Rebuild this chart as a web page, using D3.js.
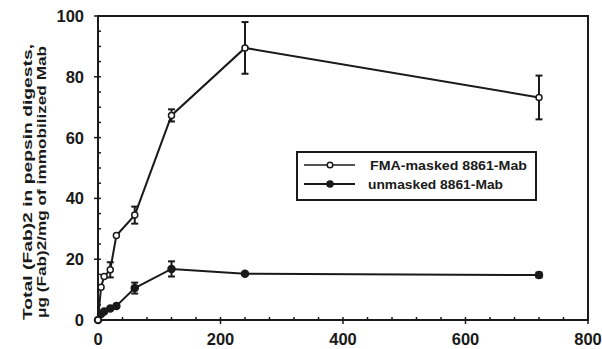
<!DOCTYPE html>
<html>
<head>
<meta charset="utf-8">
<script src="https://cdn.jsdelivr.net/npm/d3@7"></script>
<style>
  body { margin: 0; background: #fff; }
  svg { display: block; font-family: "Liberation Sans", Arial, sans-serif; font-weight: bold; }
</style>
</head>
<body>
<script>
const w = 602;
const h = 349;

// time points (x) and the two series
const times = [0, 5, 10, 20, 30, 60, 120, 240, 720];
const masked = [0, 10.8, 14.3, 16.5, 27.8, 34.5, 67.3, 89.5, 73.2];
const maskedErr = [0, 0, 0, 2.5, 0, 2.8, 2, 8.5, 7.2];
const unmasked = [0, 2, 2.8, 3.8, 4.6, 10.5, 16.8, 15.2, 14.8];
const unmaskedErr = [0, 0, 0, 0, 0, 1.8, 2.5, 0, 0.8];

const xTicks = [0, 200, 400, 600, 800];
const yTicks = [0, 20, 40, 60, 80, 100];
const legendLabels = ['FMA-masked 8861-Mab', 'unmasked 8861-Mab'];

const x = d3.scaleLinear().domain([0, 800]).range([98, 588]);
const y = d3.scaleLinear().domain([0, 100]).range([320, 16]);

const svg = d3.select('body').append('svg')
	.attr('width', w)
	.attr('height', h);

const ink = '#1a1a1a';

// frame
svg.append('rect')
	.attr('x', x(0)).attr('y', y(100))
	.attr('width', x(800) - x(0)).attr('height', y(0) - y(100))
	.attr('fill', 'none').attr('stroke', ink).attr('stroke-width', 2);

// y axis ticks
svg.append('g')
	.selectAll('line')
	.data(d3.range(0, 101, 5))
	.join('line')
	.attr('x1', d => d % 20 === 0 ? x(0) - 4 : x(0))
	.attr('x2', x(0) + 3)
	.attr('y1', d => y(d)).attr('y2', d => y(d))
	.attr('stroke', ink).attr('stroke-width', 1.5);

svg.append('g')
	.selectAll('text')
	.data(yTicks)
	.join('text')
	.attr('x', x(0) - 14)
	.attr('y', d => y(d) + 6)
	.attr('text-anchor', 'end')
	.attr('font-size', 16.5)
	.attr('fill', ink)
	.text(d => d);

// x axis ticks
svg.append('g')
	.selectAll('line')
	.data(d3.range(0, 801, 40))
	.join('line')
	.attr('x1', d => x(d)).attr('x2', d => x(d))
	.attr('y1', d => d % 200 === 0 ? y(0) + 4 : y(0))
	.attr('y2', y(0) - 3)
	.attr('stroke', ink).attr('stroke-width', 1.5);

svg.append('g')
	.selectAll('text')
	.data(xTicks)
	.join('text')
	.attr('x', d => x(d))
	.attr('y', 345)
	.attr('text-anchor', 'middle')
	.attr('font-size', 16.5)
	.attr('fill', ink)
	.text(d => d);

// y axis title
const title = svg.append('text')
	.attr('transform', 'translate(32,182) rotate(-90)')
	.attr('text-anchor', 'middle')
	.attr('font-size', 13.5)
	.attr('fill', ink);
title.append('tspan').attr('x', 0).attr('y', 0)
	.attr('textLength', 276).attr('lengthAdjust', 'spacingAndGlyphs')
	.text('Total (Fab)2 in pepsin digests,');
title.append('tspan').attr('x', 0).attr('y', 13.5)
	.attr('textLength', 272).attr('lengthAdjust', 'spacingAndGlyphs')
	.text('\u03bcg (Fab)2/mg of immobilized Mab');

const line = d3.line().x(d => x(d[0])).y(d => y(d[1]));

function drawSeries(vals, errs, filled) {
	const pts = times.map((t, i) => [t, vals[i], errs[i]]);
	const g = svg.append('g');
	g.append('path')
		.datum(pts)
		.attr('d', line)
		.attr('fill', 'none')
		.attr('stroke', ink)
		.attr('stroke-width', 2);
	const eb = g.selectAll('g.err')
		.data(pts.filter(d => d[2] > 0))
		.join('g');
	eb.append('line')
		.attr('x1', d => x(d[0])).attr('x2', d => x(d[0]))
		.attr('y1', d => y(d[1] - d[2])).attr('y2', d => y(d[1] + d[2]))
		.attr('stroke', ink).attr('stroke-width', 2);
	[1, -1].forEach(s => {
		eb.append('line')
			.attr('x1', d => x(d[0]) - 3.5).attr('x2', d => x(d[0]) + 3.5)
			.attr('y1', d => y(d[1] + s * d[2])).attr('y2', d => y(d[1] + s * d[2]))
			.attr('stroke', ink).attr('stroke-width', 2);
	});
	g.selectAll('circle')
		.data(pts)
		.join('circle')
		.attr('cx', d => x(d[0])).attr('cy', d => y(d[1]))
		.attr('r', filled ? 3.5 : 3)
		.attr('fill', filled ? ink : '#fff')
		.attr('stroke', ink)
		.attr('stroke-width', 1.5);
}

drawSeries(unmasked, unmaskedErr, true);
drawSeries(masked, maskedErr, false);

// legend
const lg = svg.append('g');
lg.append('rect')
	.attr('x', 297).attr('y', 152)
	.attr('width', 239).attr('height', 48)
	.attr('fill', '#fff').attr('stroke', ink).attr('stroke-width', 2);
legendLabels.forEach((lab, i) => {
	const ly = 165 + i * 19;
	lg.append('line')
		.attr('x1', 304).attr('x2', 355)
		.attr('y1', ly).attr('y2', ly)
		.attr('stroke', ink).attr('stroke-width', i === 0 ? 1.5 : 2);
	lg.append('circle')
		.attr('cx', 330).attr('cy', ly)
		.attr('r', i === 0 ? 2.8 : 3)
		.attr('fill', i === 0 ? '#fff' : ink)
		.attr('stroke', ink).attr('stroke-width', 1.5);
	lg.append('text')
		.attr('x', i === 0 ? 370 : 368)
		.attr('y', ly + 5)
		.attr('font-size', 13.5)
		.attr('fill', ink)
		.attr('textLength', i === 0 ? 157 : 135)
		.attr('lengthAdjust', 'spacingAndGlyphs')
		.text(lab);
});
</script>
</body>
</html>
